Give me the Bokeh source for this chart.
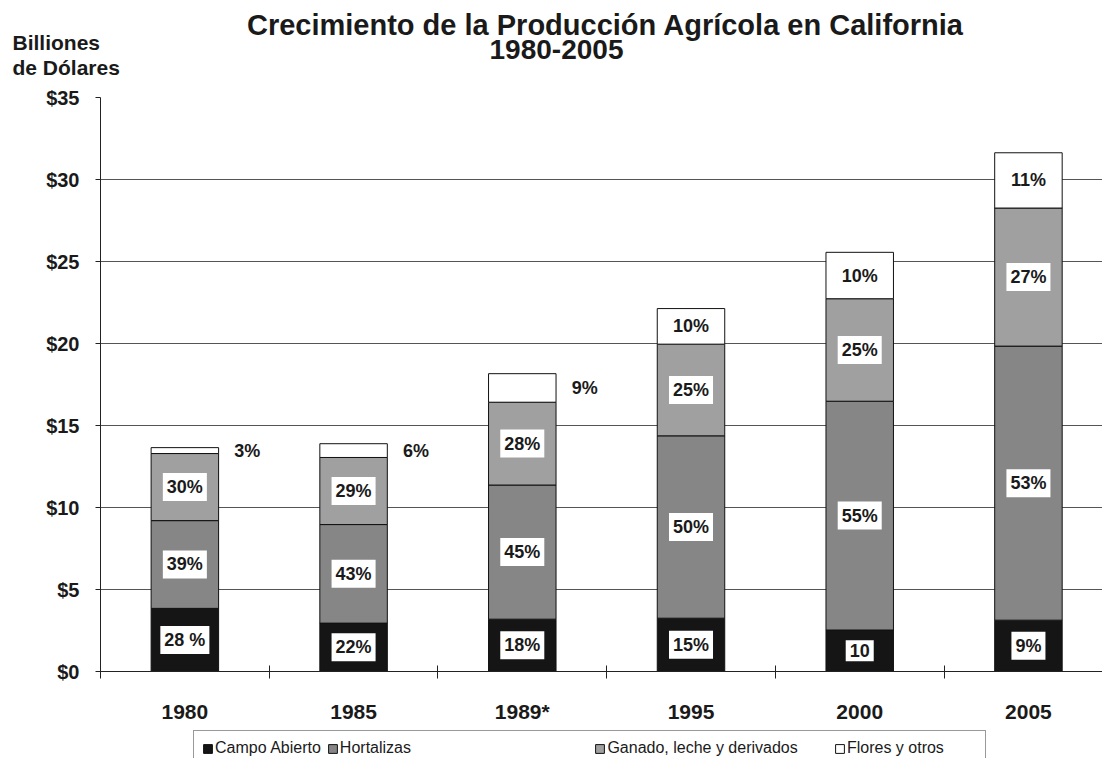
from bokeh.plotting import figure
from bokeh.layouts import column
from bokeh.models import ColumnDataSource, FixedTicker, Legend, LegendItem
from bokeh.core.properties import value
from bokeh.embed import file_html
from bokeh.resources import INLINE

# ---------------- data ----------------
years = ["1980", "1985", "1989*", "1995", "2000", "2005"]
campo = [3.85, 2.95, 3.19, 3.25, 2.53, 3.13]
hortalizas = [5.35, 6.01, 8.18, 11.12, 13.95, 16.71]
ganado = [4.09, 4.09, 5.05, 5.59, 6.25, 8.42]
flores = [0.36, 0.84, 1.74, 2.17, 2.83, 3.37]

campo_pct = ["28 %", "22%", "18%", "15%", "10", "9%"]
hortalizas_pct = ["39%", "43%", "45%", "50%", "55%", "53%"]
ganado_pct = ["30%", "29%", "28%", "25%", "25%", "27%"]
flores_pct = ["3%", "6%", "9%", "10%", "10%", "11%"]

series_names = ["Campo Abierto", "Hortalizas", "Ganado, leche y derivados", "Flores y otros"]
series_keys = ["campo", "hortalizas", "ganado", "flores"]
colors = ["#151515", "#868686", "#a0a0a0", "#ffffff"]

y_ticks = [0, 5, 10, 15, 20, 25, 30, 35]
y_tick_labels = ["$0", "$5", "$10", "$15", "$20", "$25", "$30", "$35"]

title_text = "Crecimiento de la Producción Agrícola en California"
subtitle_text = "1980-2005"
ylabel_lines = ["Billiones", "de Dólares"]

FONT = "Liberation Sans"
TXT = "#1a1a1a"
W = 1102
HEAD_H, MAIN_H, FOOT_H = 83, 642, 33


def bare(fig):
    fig.outline_line_color = None
    fig.xgrid.visible = False
    fig.ygrid.visible = False
    fig.min_border = 0
    fig.frame_align = False
    return fig


# ---------------- header (titles) ----------------
head = bare(figure(width=W, height=HEAD_H, x_range=(0, W), y_range=(HEAD_H, 0),
                   output_backend="svg", toolbar_location=None,
                   x_axis_location=None, y_axis_location=None))
head_src = ColumnDataSource(dict(x=[605], y=[24], t=[title_text]))
head.text(x="x", y="y", text="t", source=head_src, text_font=value(FONT), text_font_style="bold",
          text_font_size="29px", text_color=TXT, text_align="center", text_baseline="alphabetic")
sub_src = ColumnDataSource(dict(x=[556], y=[49], t=[subtitle_text]))
head.text(x="x", y="y", text="t", source=sub_src, text_font=value(FONT), text_font_style="bold",
          text_font_size="28px", text_color=TXT, text_align="center", text_baseline="alphabetic")
ylab_src = ColumnDataSource(dict(x=[12, 12], y=[42, 67], t=ylabel_lines))
head.text(x="x", y="y", text="t", source=ylab_src, text_font=value(FONT), text_font_style="bold",
          text_font_size="21px", text_color=TXT, text_align="left", text_baseline="alphabetic")

# ---------------- main chart ----------------
x = list(range(len(years)))
source = ColumnDataSource(dict(x=x, campo=campo, hortalizas=hortalizas, ganado=ganado, flores=flores))

p = figure(width=W, height=MAIN_H, x_range=(-0.5, 5.439), y_range=(0, 35),
           output_backend="svg", toolbar_location=None,
           min_border_left=100, min_border_right=0, min_border_top=14, min_border_bottom=46)
p.outline_line_color = None
p.frame_align = False

renderers = p.vbar_stack(series_keys, x="x", width=0.4, source=source,
                         fill_color=colors, line_color="#111111", line_width=1)

in_x, in_y, in_t = [], [], []
out_x, out_y, out_t = [], [], []
pct_lists = [campo_pct, hortalizas_pct, ganado_pct, flores_pct]
vals = [campo, hortalizas, ganado, flores]
for i in x:
    bottom = 0.0
    for s in range(4):
        v = vals[s][i]
        mid = bottom + v / 2.0
        if s == 3 and v < 2.0:
            out_x.append(i + 0.37)
            out_y.append(mid)
            out_t.append(pct_lists[s][i])
        else:
            in_x.append(i)
            in_y.append(mid)
            in_t.append(pct_lists[s][i])
        bottom += v

src_in = ColumnDataSource(dict(x=in_x, y=in_y, t=in_t))
src_out = ColumnDataSource(dict(x=out_x, y=out_y, t=out_t))

p.text(x="x", y="y", text="t", source=src_in, text_font=value(FONT), text_font_style="bold",
       text_font_size="18px", text_color=TXT, text_align="center", text_baseline="middle",
       background_fill_color="white", padding=4)
p.text(x="x", y="y", text="t", source=src_out, text_font=value(FONT), text_font_style="bold",
       text_font_size="18px", text_color=TXT, text_align="center", text_baseline="middle")

p.xgrid.visible = False
p.ygrid.grid_line_color = "#555555"
p.ygrid.grid_line_width = 1

p.yaxis.ticker = FixedTicker(ticks=y_ticks)
p.yaxis.major_label_overrides = {t: l for t, l in zip(y_ticks, y_tick_labels)}
p.yaxis.major_tick_in = 0
p.yaxis.major_tick_out = 5
p.yaxis.minor_tick_line_color = None
p.yaxis.major_label_standoff = 16
p.yaxis.major_label_text_font = FONT
p.yaxis.major_label_text_font_style = "bold"
p.yaxis.major_label_text_font_size = "20px"
p.yaxis.major_label_text_color = TXT
p.yaxis.axis_line_color = "#222222"
p.yaxis.major_tick_line_color = "#222222"

p.xaxis.ticker = FixedTicker(ticks=x, minor_ticks=[i - 0.5 for i in x])
p.xaxis.major_label_overrides = {i: y for i, y in zip(x, years)}
p.xaxis.major_tick_in = 0
p.xaxis.major_tick_out = 0
p.xaxis.minor_tick_in = 6
p.xaxis.minor_tick_out = 7
p.xaxis.minor_tick_line_color = "#222222"
p.xaxis.major_label_standoff = 21
p.xaxis.major_label_text_font = FONT
p.xaxis.major_label_text_font_style = "bold"
p.xaxis.major_label_text_font_size = "21px"
p.xaxis.major_label_text_color = TXT
p.xaxis.axis_line_color = "#222222"

# ---------------- footer (legend) ----------------
foot = bare(figure(width=W, height=FOOT_H, x_range=(0, W), y_range=(0, FOOT_H),
                   output_backend="svg", toolbar_location=None,
                   x_axis_location=None, y_axis_location=None))
# legend proxies: one hidden bar each (below the visible range), only used for their swatch style
swatches = [foot.vbar(x=[0], top=[-5], bottom=[-6], width=1, fill_color=c, line_color="#111111")
            for c in colors]
spacer = foot.vbar(x=[0], top=[-5], bottom=[-6], width=1, fill_alpha=0, line_alpha=0)
items = [
    LegendItem(label=series_names[0], renderers=[swatches[0]]),
    LegendItem(label=series_names[1], renderers=[swatches[1]]),
    LegendItem(label="\u2003" * 9 + "\u2002\u2009\u2009", renderers=[spacer]),
    LegendItem(label=series_names[2], renderers=[swatches[2]]),
    LegendItem(label="\u2002\u2009", renderers=[spacer]),
    LegendItem(label=series_names[3], renderers=[swatches[3]]),
    LegendItem(label="\u2002\u2009\u2009", renderers=[spacer]),
]
legend = Legend(items=items, orientation="horizontal", location=(193, -8),
                glyph_width=11, glyph_height=11, label_standoff=2, spacing=6,
                padding=8, margin=0, label_height=16, label_width=0,
                label_text_font=FONT, label_text_font_size="16px", label_text_color=TXT,
                border_line_color="#333333", border_line_width=1,
                background_fill_color="white", background_fill_alpha=1)
foot.add_layout(legend)

layout = column(head, p, foot, spacing=0)
open("out.html", "w").write(file_html(layout, INLINE))
